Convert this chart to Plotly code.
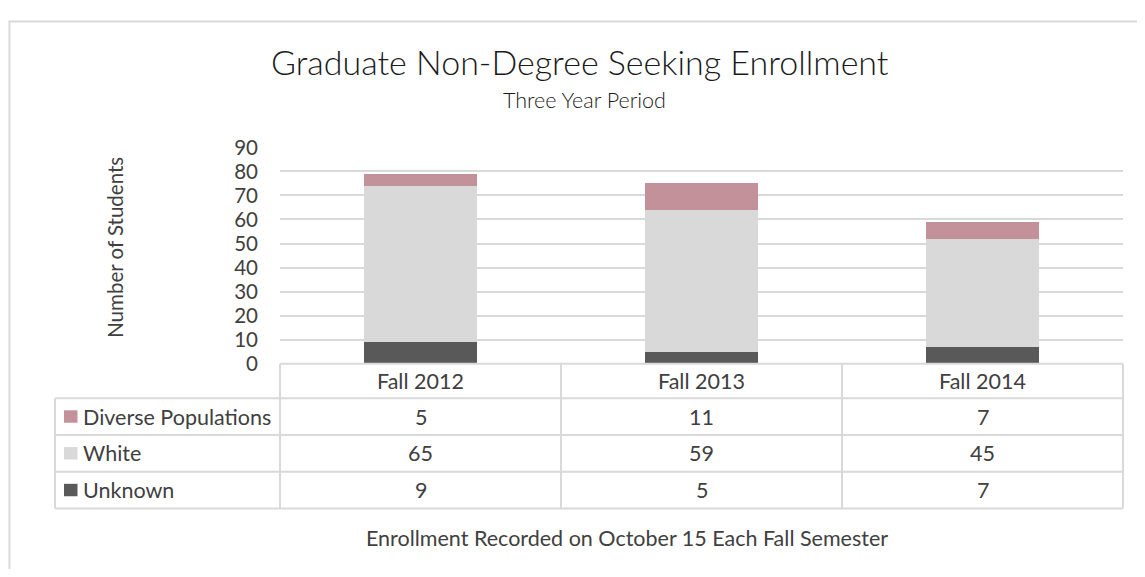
import plotly.graph_objects as go

# ---------------- data ----------------
categories = ["Fall 2012", "Fall 2013", "Fall 2014"]
series_names = ["Unknown", "White", "Diverse Populations"]
unknown = [9, 5, 7]
white = [65, 59, 45]
diverse = [5, 11, 7]
y_ticks = [0, 10, 20, 30, 40, 50, 60, 70, 80, 90]

title_text = "Graduate Non-Degree Seeking Enrollment"
subtitle_text = "Three Year Period"
y_title = "Number of Students"
footer_text = "Enrollment Recorded on October 15 Each Fall Semester"

colors = {"Unknown": "#595959", "White": "#D9D9D9", "Diverse Populations": "#C3919A"}
values = {"Unknown": unknown, "White": white, "Diverse Populations": diverse}

# ---------------- geometry (page pixels) ----------------
OFF = 8                      # default body margin of the html page
FW, FH = 1145 - 2 * OFF, 577 - 2 * OFF


def px(x):
    return (x - OFF) / FW


def py(y):
    return 1 - (y - OFF) / FH


PL, PR = 280, 1123
PT, PB = 140, 366
TL = 55
HEADER_B = 402
ROW_H = 38.4
GRID = "#D9D9D9"
TXT = "#404040"
FONT = "Lato"

fig = go.Figure()
for name in series_names:
    fig.add_trace(go.Bar(
        x=categories, y=values[name], name=name,
        marker=dict(color=colors[name], line=dict(width=0)),
        width=0.402, showlegend=False))

fig.update_layout(
    width=FW, height=FH, autosize=False, barmode="stack",
    margin=dict(l=0, r=0, t=0, b=0),
    paper_bgcolor="white", plot_bgcolor="white",
    font=dict(family=FONT, color=TXT),
    xaxis=dict(domain=[px(PL), px(PR)], range=[-0.5, 2.5], showticklabels=False,
               showgrid=False, zeroline=False, showline=False, fixedrange=True),
    yaxis=dict(domain=[py(PB), py(PT)], range=[0, 90], tickvals=y_ticks,
               showgrid=True, gridcolor=GRID, gridwidth=1.5, zeroline=False,
               showline=False, ticks="", ticklabelstandoff=21,
               tickfont=dict(size=20.5, color=TXT, family=FONT)),
)

shapes = []
# chart border
shapes.append(dict(type="rect", xref="paper", yref="paper", x0=px(9.5), x1=px(1170),
                   y0=py(620), y1=py(8.5), line=dict(color="#D9D9D9", width=2)))
col_edges = [PL + i * (PR - PL) / 3 for i in range(4)]
row_edges = [HEADER_B + i * ROW_H for i in range(4)]
shapes.append(dict(type="line", xref="paper", yref="paper", x0=px(PL), x1=px(PR),
                   y0=py(PB), y1=py(PB), line=dict(color=GRID, width=2)))
for r in row_edges:
    shapes.append(dict(type="line", xref="paper", yref="paper", x0=px(TL), x1=px(PR),
                       y0=py(r), y1=py(r), line=dict(color=GRID, width=2)))
shapes.append(dict(type="line", xref="paper", yref="paper", x0=px(TL), x1=px(TL),
                   y0=py(row_edges[0]), y1=py(row_edges[-1]), line=dict(color=GRID, width=2)))
for c in col_edges:
    shapes.append(dict(type="line", xref="paper", yref="paper", x0=px(c), x1=px(c),
                       y0=py(PB), y1=py(row_edges[-1]), line=dict(color=GRID, width=2)))

annotations = []
TS = 21.5
for i, cat in enumerate(categories):
    cx = (col_edges[i] + col_edges[i + 1]) / 2
    annotations.append(dict(xref="paper", yref="paper", x=px(cx), y=py((PB + HEADER_B) / 2),
                            text=cat, showarrow=False, xanchor="center", yanchor="middle",
                            font=dict(size=TS, color=TXT, family=FONT)))
row_order = ["Diverse Populations", "White", "Unknown"]
for r, name in enumerate(row_order):
    cy = row_edges[r] + ROW_H / 2
    shapes.append(dict(type="rect", xref="paper", yref="paper", x0=px(64), x1=px(77.5),
                       y0=py(cy + 6.5), y1=py(cy - 6.5), fillcolor=colors[name],
                       line=dict(width=0)))
    annotations.append(dict(xref="paper", yref="paper", x=px(81), y=py(cy), text=name,
                            showarrow=False, xanchor="left", yanchor="middle",
                            font=dict(size=TS, color=TXT, family=FONT)))
    for i, v in enumerate(values[name]):
        cx = (col_edges[i] + col_edges[i + 1]) / 2
        annotations.append(dict(xref="paper", yref="paper", x=px(cx), y=py(cy), text=str(v),
                                showarrow=False, xanchor="center", yanchor="middle",
                                font=dict(size=TS, color=TXT, family=FONT)))

annotations.append(dict(xref="paper", yref="paper", x=px(580), y=py(50), text=title_text,
                        showarrow=False, xanchor="center", yanchor="middle",
                        font=dict(size=34, color="#1A1A1A", family=FONT, weight=300)))
annotations.append(dict(xref="paper", yref="paper", x=px(584), y=py(91), text=subtitle_text,
                        showarrow=False, xanchor="center", yanchor="middle",
                        font=dict(size=21.5, color="#1A1A1A", family=FONT, weight=300)))
annotations.append(dict(xref="paper", yref="paper", x=px(115), y=py(245), text=y_title,
                        showarrow=False, xanchor="center", yanchor="middle", textangle=-90,
                        font=dict(size=20.5, color=TXT, family=FONT)))
annotations.append(dict(xref="paper", yref="paper", x=px(627), y=py(548), text=footer_text,
                        showarrow=False, xanchor="center", yanchor="middle",
                        font=dict(size=21.5, color=TXT, family=FONT)))

fig.update_layout(shapes=shapes, annotations=annotations)
fig.write_html("out.html")
